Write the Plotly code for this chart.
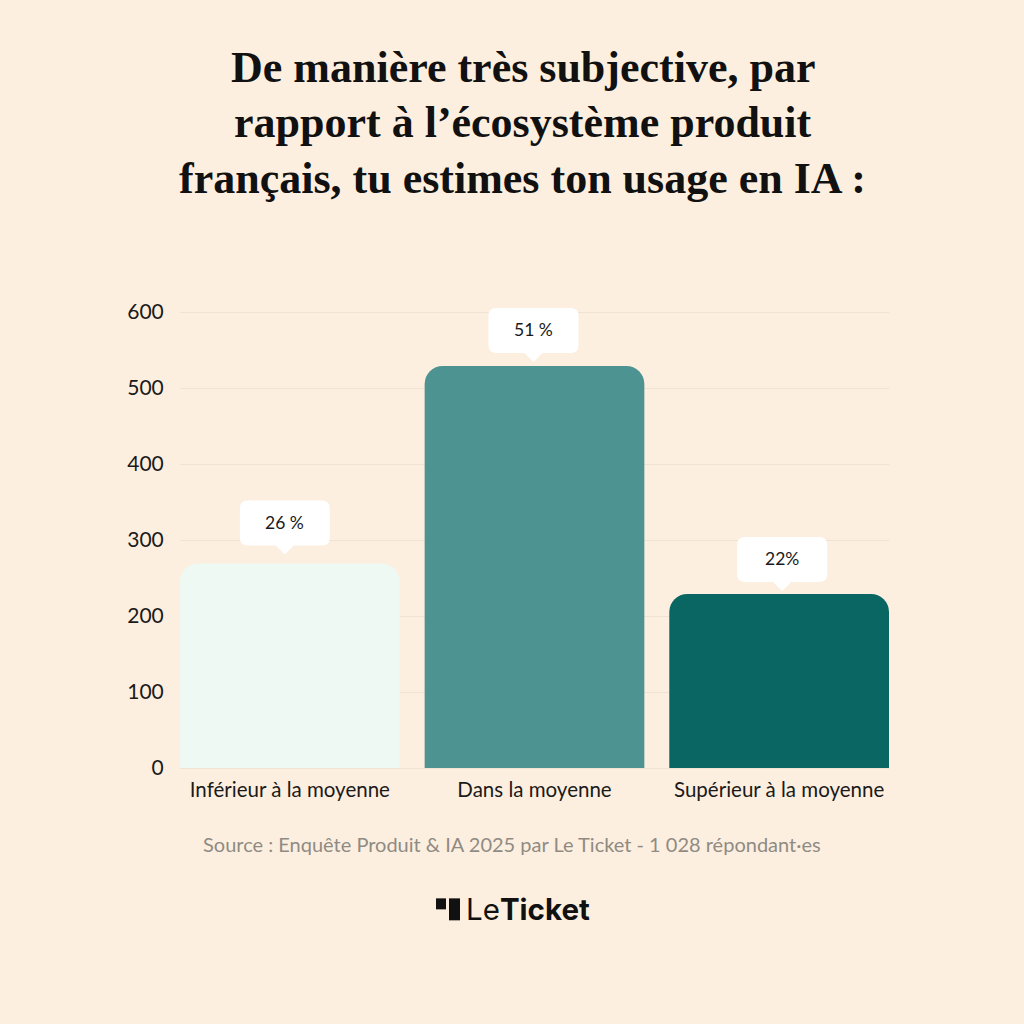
import plotly.graph_objects as go

# --- data ---
categories = ["Inférieur à la moyenne", "Dans la moyenne", "Supérieur à la moyenne"]
respondents = [269, 529, 229]
share_labels = ["26 %", "51 %", "22%"]
y_ticks = [0, 100, 200, 300, 400, 500, 600]
title_lines = [
    "De manière très subjective, par",
    "rapport à l’écosystème produit",
    "français, tu estimes ton usage en IA :",
]
source_text = "Source : Enquête Produit &amp; IA 2025 par Le Ticket - 1 028 répondant·es"

# --- style ---
BG = "#FDEFDF"
BAR_COLORS = ["#EEF9F4", "#4D9392", "#096663"]
GRID = "#EFE3D4"
INK = "#1A1A1A"
BODY_FONT = "Lato"
TITLE_FONT = "Liberation Serif"
W, H = 1024, 1024
# plot area runs a little above the 600 gridline so the top callout is not clipped
L, R, T, B = 180, 889, 300, 768.5
Y_TOP = 615.8
CALLOUT_DX = [-5, -1, 3]
CALLOUT_GAP = [18, 13, 12]


def px(x):
    return (x - L) / (R - L)


def py(y):
    return (B - y) / (B - T)


def callout_path(dx, gap, w=90, h=45, r=8, tip=9, tw=9):
    bottom = gap
    top = gap + h
    left, right = dx - w / 2, dx + w / 2
    return (
        f"M {left + r} {bottom} "
        f"L {dx - tw} {bottom} L {dx} {bottom - tip} L {dx + tw} {bottom} "
        f"L {right - r} {bottom} Q {right} {bottom} {right} {bottom + r} "
        f"L {right} {top - r} Q {right} {top} {right - r} {top} "
        f"L {left + r} {top} Q {left} {top} {left} {top - r} "
        f"L {left} {bottom + r} Q {left} {bottom} {left + r} {bottom} Z"
    )


fig = go.Figure(
    go.Bar(
        x=categories,
        y=respondents,
        marker=dict(color=BAR_COLORS, line=dict(width=0)),
        hoverinfo="skip",
    )
)

shapes = []
annotations = []
for i, (cat, val, lab) in enumerate(zip(categories, respondents, share_labels)):
    shapes.append(dict(
        type="path", layer="above", xref="x", yref="y",
        xsizemode="pixel", ysizemode="pixel", xanchor=cat, yanchor=val,
        path=callout_path(CALLOUT_DX[i], CALLOUT_GAP[i]),
        fillcolor="#FFFFFF", line=dict(width=0),
    ))
    annotations.append(dict(
        x=cat, y=val, xref="x", yref="y", text=lab, showarrow=False,
        xshift=CALLOUT_DX[i], yshift=CALLOUT_GAP[i] + 23,
        font=dict(family=BODY_FONT, size=17.5, color=INK),
    ))

for text, yy in zip(title_lines, [67, 122, 178]):
    annotations.append(dict(
        x=px(522.5), y=py(yy), xref="paper", yref="paper", text=f"<b>{text}</b>",
        showarrow=False, xanchor="center", yanchor="middle",
        font=dict(family=TITLE_FONT, size=44, color="#111111"),
    ))

annotations.append(dict(
    x=px(512), y=py(845), xref="paper", yref="paper", text=source_text,
    showarrow=False, xanchor="center", yanchor="middle",
    font=dict(family=BODY_FONT, size=20, color="#8F8B84"),
))
annotations.append(dict(
    x=px(464), y=py(910), xref="paper", yref="paper", text="Le<b>Ticket</b>",
    showarrow=False, xanchor="left", yanchor="middle",
    font=dict(family="Inter", size=29.5, color="#111111"),
))
for x0, x1, y0, y1 in [(436, 446, 899, 910), (449, 460, 899, 921)]:
    shapes.append(dict(
        type="rect", xref="paper", yref="paper", layer="above",
        x0=px(x0), x1=px(x1), y0=py(y0), y1=py(y1),
        fillcolor="#111111", line=dict(width=0),
    ))

fig.update_layout(
    width=W, height=H, autosize=False,
    margin=dict(l=L, r=W - R, t=T, b=H - B, pad=0),
    paper_bgcolor=BG, plot_bgcolor=BG,
    bargap=0.102, barcornerradius=18,
    showlegend=False, shapes=shapes, annotations=annotations,
    font=dict(family=BODY_FONT, color=INK),
    xaxis=dict(
        type="category", range=[-0.449, 2.449], showgrid=False,
        showline=False, ticks="outside", ticklen=3, tickcolor="rgba(0,0,0,0)",
        tickfont=dict(family=BODY_FONT, size=20.5, color=INK),
    ),
    yaxis=dict(
        range=[0, Y_TOP], tickvals=y_ticks, showgrid=True, gridcolor=GRID, gridwidth=1,
        zeroline=True, zerolinecolor=GRID, zerolinewidth=1, showline=False,
        ticks="outside", ticklen=11, tickcolor="rgba(0,0,0,0)",
        tickfont=dict(family=BODY_FONT, size=21, color=INK),
    ),
)

fig.write_html(
    "out.html",
    config={"displayModeBar": False},
    post_script=f"document.body.style.margin='0';document.body.style.background='{BG}';",
)
